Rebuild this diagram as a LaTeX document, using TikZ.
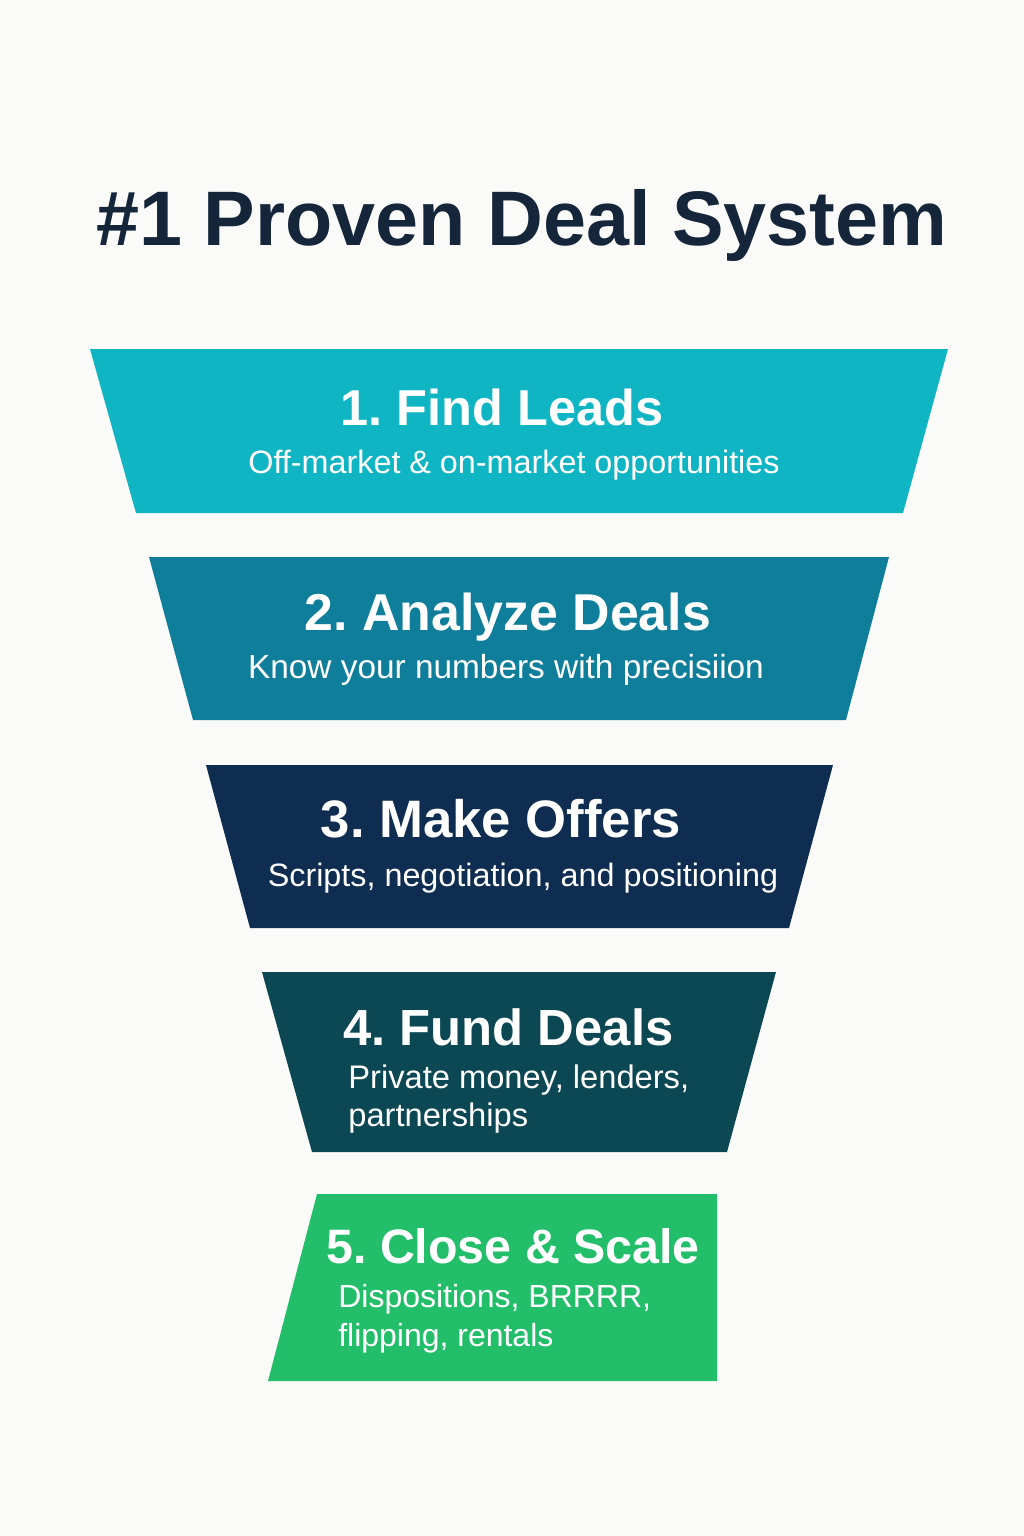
\documentclass[tikz,border=0pt]{standalone}
\usepackage{fontspec}
\setmainfont{Liberation Sans}
\definecolor{bgc}{HTML}{FAFAF8}
\definecolor{titlec}{HTML}{16263A}
\definecolor{cA}{HTML}{10B5C4}
\definecolor{cB}{HTML}{0E7E9A}
\definecolor{cC}{HTML}{0E2D50}
\definecolor{cD}{HTML}{0C4853}
\definecolor{cE}{HTML}{22BE69}
\begin{document}
\frenchspacing
\begin{tikzpicture}[x=0.02cm,y=-0.02cm,
  headtxt/.style={inner sep=0pt,text=white,font=\fontsize{#1}{34}\selectfont\bfseries},
  headtxt/.default=29,
  subtxt/.style={inner sep=0pt,text=white,font=\fontsize{#1}{22}\selectfont\frenchspacing,align=left},
  subtxt/.default=18.4,
  titletxt/.style={inner sep=0pt,text=titlec,font=\fontsize{44}{50}\selectfont\bfseries}]
\fill[bgc] (0,0) rectangle (1024,1536);
\useasboundingbox (0,0) rectangle (1024,1536);
% funnel bands
\fill[cA] (90,349) -- (948,349) -- (903,513) -- (136,513) -- cycle;
\fill[cB] (149,557) -- (889,557) -- (846,720) -- (193,720) -- cycle;
\fill[cC] (206,765) -- (833,765) -- (789,928) -- (250,928) -- cycle;
\fill[cD] (262,972) -- (776,972) -- (727,1152) -- (312,1152) -- cycle;
\fill[cE] (317,1194) -- (717,1194) -- (717,1381) -- (268,1381) -- cycle;
% title
\node[titletxt,anchor=base] (title) at (522,245) {\#1 Proven Deal System};
% texts
\node[headtxt=28.7,anchor=base] (h1) at (502,425) {1. Find Leads};
\node[subtxt=18.4,anchor=base] (s1) at (514,473) {Off-market \& on-market opportunities};
\node[headtxt=29.5,anchor=base] (h2) at (508,630) {2. Analyze Deals};
\node[subtxt=19,anchor=base] (s2) at (506,678) {Know your numbers with precisiion};
\node[headtxt=30,anchor=base] (h3) at (501,837) {3. Make Offers};
\node[subtxt=18.4,anchor=base] (s3) at (523,886) {Scripts, negotiation, and positioning};
\node[headtxt=28.9,anchor=base west] (h4) at (343,1045) {4. Fund Deals};
\node[subtxt=18.6,anchor=north west] (s4) at (348,1064) {Private money, lenders,\\partnerships};
\node[headtxt=27.5,anchor=base west] (h5) at (326,1263) {5. Close \& Scale};
\node[subtxt=18.2,anchor=north west] (s5) at (338,1284) {Dispositions, BRRRR,\\flipping, rentals};
\end{tikzpicture}
\end{document}
